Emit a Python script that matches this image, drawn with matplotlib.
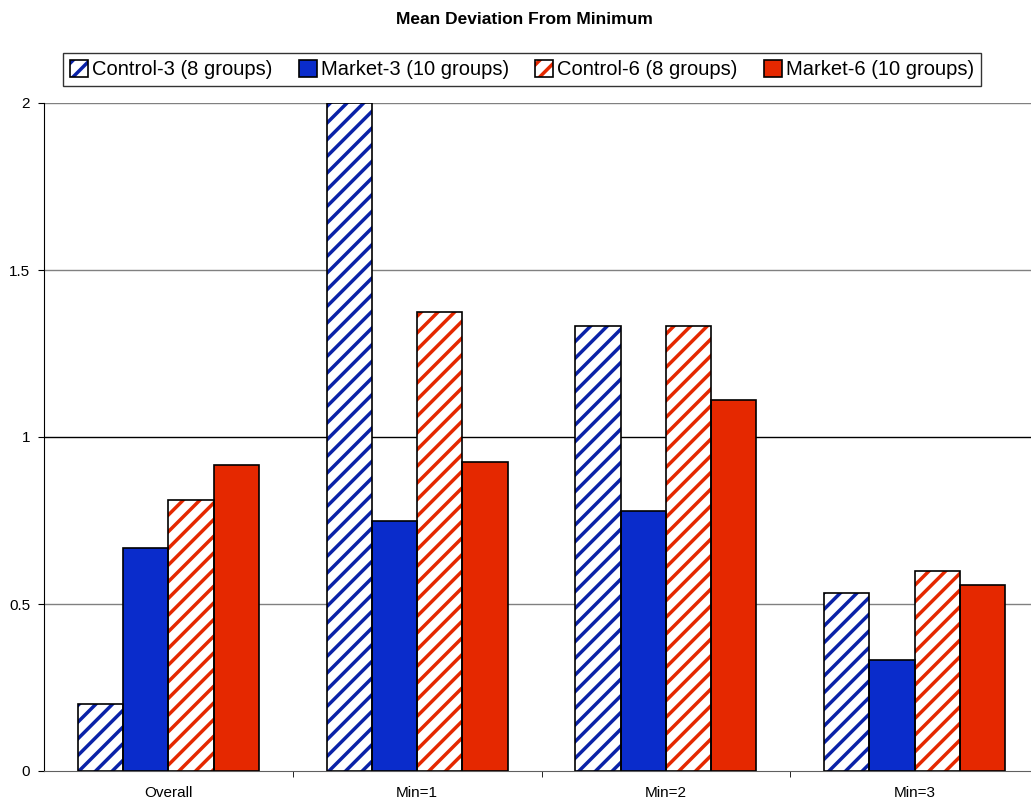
import matplotlib.pyplot as plt
import numpy as np
from matplotlib.legend_handler import HandlerTuple

plt.rcParams['font.family'] = ['Liberation Sans', 'DejaVu Sans']
plt.rcParams['hatch.linewidth'] = 2.5

categories = ['Overall', 'Min=1', 'Min=2', 'Min=3']
series_names = ['Control-3 (8 groups)', 'Market-3 (10 groups)',
                'Control-6 (8 groups)', 'Market-6 (10 groups)']
control3 = [0.2, 2.0, 1.333, 0.533]
market3 = [0.667, 0.75, 0.778, 0.333]
control6 = [0.8125, 1.375, 1.333, 0.6]
market6 = [0.917, 0.925, 1.111, 0.556]

blue = '#0A2CCB'
blue_stripe = '#0A22A8'
red = '#E52800'

fig = plt.figure(figsize=(10.31, 8.02), dpi=100)
# axes runs a little past the right edge, like the original export
ax = fig.add_axes([44 / 1031, 1 - 771 / 802, 995 / 1031, 668 / 802])

x = np.arange(len(categories))
w = 0.182
offsets = [-1.5 * w, -0.5 * w, 0.5 * w, 1.5 * w]

handles = []
for vals, off, color, hatched in [(control3, offsets[0], blue_stripe, True),
                                  (market3, offsets[1], blue, False),
                                  (control6, offsets[2], red, True),
                                  (market6, offsets[3], red, False)]:
    if hatched:
        inner = ax.bar(x + off, vals, w, color='white', edgecolor=color,
                       hatch='//', linewidth=0, zorder=3)
    else:
        inner = ax.bar(x + off, vals, w, color=color, linewidth=0, zorder=3)
    outline = ax.bar(x + off, vals, w, fill=False, edgecolor='black',
                     linewidth=1.2, zorder=4)
    handles.append((inner[0], outline[0]))

ax.set_xlim(-0.5, 3.5)
ax.set_ylim(0, 2)
ax.set_yticks([0, 0.5, 1, 1.5, 2])
ax.set_yticklabels(['0', '0.5', '1', '1.5', '2'])
ax.set_xticks(x)
ax.set_xticklabels(categories)
ax.set_xticks([0.5, 1.5, 2.5], minor=True)
ax.tick_params(axis='x', which='major', length=0, labelsize=11, pad=11)
ax.tick_params(axis='x', which='minor', length=4, color='black')
ax.tick_params(axis='y', length=4, labelsize=11, pad=6)

for yv in [0.5, 1.5, 2]:
    ax.axhline(yv, color='#808080', linewidth=1, zorder=1)
ax.axhline(1, color='black', linewidth=1, zorder=1)

for s in ['top', 'right']:
    ax.spines[s].set_visible(False)
ax.spines['left'].set_color('black')
ax.spines['bottom'].set_color('#606060')

leg = ax.legend(handles, series_names,
                handler_map={tuple: HandlerTuple(ndivide=1, pad=0)},
                loc='upper left', bbox_to_anchor=(19 / 995, 1.075), ncol=4,
                fontsize=14.5, frameon=True, fancybox=False, borderaxespad=0,
                handlelength=0.9, handleheight=0.9, handletextpad=0.2,
                columnspacing=1.3, borderpad=0.35)
leg.get_frame().set_edgecolor('black')
leg.get_frame().set_linewidth(1.0)

fig.text(524 / 1031, 1 - 20 / 802, 'Mean Deviation From Minimum',
         ha='center', va='center', fontsize=12.5, fontweight='bold')

fig.savefig('out.png', dpi=100)
